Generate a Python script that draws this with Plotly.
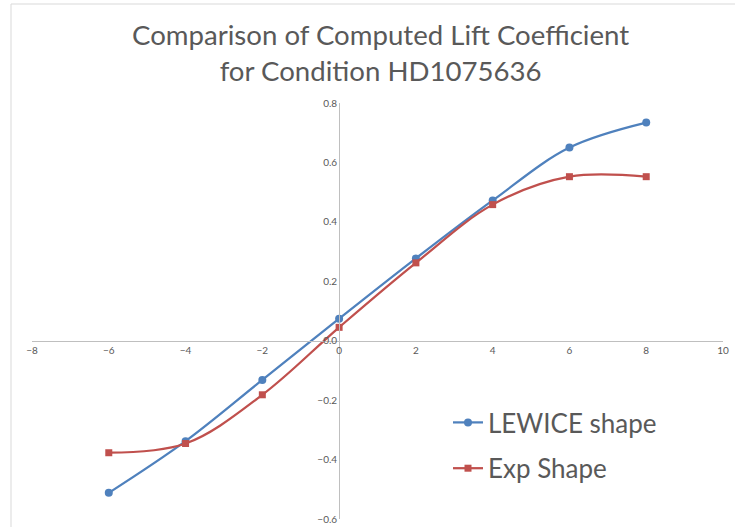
import plotly.graph_objects as go

# Data
alpha = [-6, -4, -2, 0, 2, 4, 6, 8]
lewice_cl = [-0.512, -0.338, -0.132, 0.074, 0.277, 0.472, 0.650, 0.734]
exp_cl = [-0.377, -0.346, -0.182, 0.045, 0.262, 0.458, 0.552, 0.552]
series_names = ["LEWICE shape", "Exp Shape"]
title_lines = ["Comparison of Computed Lift Coefficient", "for Condition HD1075636"]

FONT = "Lato"
GRAY = "#595959"
AXIS = "#bfbfbf"

fig = go.Figure()
fig.add_trace(go.Scatter(
    x=alpha, y=lewice_cl, name=series_names[0], mode="lines+markers",
    legendgroup="a",
    line=dict(color="#4F81BD", width=2.25, shape="spline", smoothing=1),
    marker=dict(symbol="circle", size=8, color="#4F81BD"),
))
fig.add_trace(go.Scatter(
    x=alpha, y=exp_cl, name=series_names[1], mode="lines+markers",
    legendgroup="b",
    line=dict(color="#C0504D", width=2.25, shape="spline", smoothing=1),
    marker=dict(symbol="square", size=7, color="#C0504D"),
))

xr = [-8, 10]
yr = [-0.6, 0.8]
PH = 416.0  # plot height in px
PW = 691.0  # plot width in px

fig.update_layout(
    width=735, height=527,
    margin=dict(l=32, r=12, t=103, b=8, autoexpand=False),
    paper_bgcolor="white", plot_bgcolor="white",
    font=dict(family=FONT, color=GRAY),
    xaxis=dict(range=xr, dtick=2, tick0=-8, showgrid=False, zeroline=False,
               showline=True, linecolor=AXIS, linewidth=1,
               anchor="free", position=(0 - yr[0]) / (yr[1] - yr[0]),
               ticks="", tickfont=dict(size=10, color=GRAY)),
    yaxis=dict(range=yr, dtick=0.2, tickformat=".1f", showgrid=False, zeroline=False,
               showline=True, linecolor=AXIS, linewidth=1,
               anchor="free", position=(0 - xr[0]) / (xr[1] - xr[0]),
               ticks="", tickfont=dict(size=10, color=GRAY)),
    legend=dict(x=(448 - 32) / PW, y=(519 - 399) / PH, xanchor="left", yanchor="top",
                bgcolor="rgba(0,0,0,0)", font=dict(family=FONT, size=26, color=GRAY),
                itemwidth=30, traceorder="grouped", tracegroupgap=9),
    showlegend=True,
    annotations=[dict(text="<br>".join(title_lines), xref="paper", yref="paper",
                      x=(380 - 32) / PW, y=1 + (103 - 52) / PH,
                      xanchor="center", yanchor="middle", showarrow=False,
                      font=dict(family=FONT, size=27.6, color=GRAY))],
    shapes=[dict(type="rect", xref="paper", yref="paper",
                 x0=-21 / PW, x1=1.05, y0=-0.1, y1=1 + 99 / PH,
                 line=dict(color="#d9d9d9", width=1), fillcolor="rgba(0,0,0,0)")],
)

fig.write_html("out.html", config={"displayModeBar": False},
               post_script="document.body.style.margin='0';document.body.style.overflow='hidden';")
